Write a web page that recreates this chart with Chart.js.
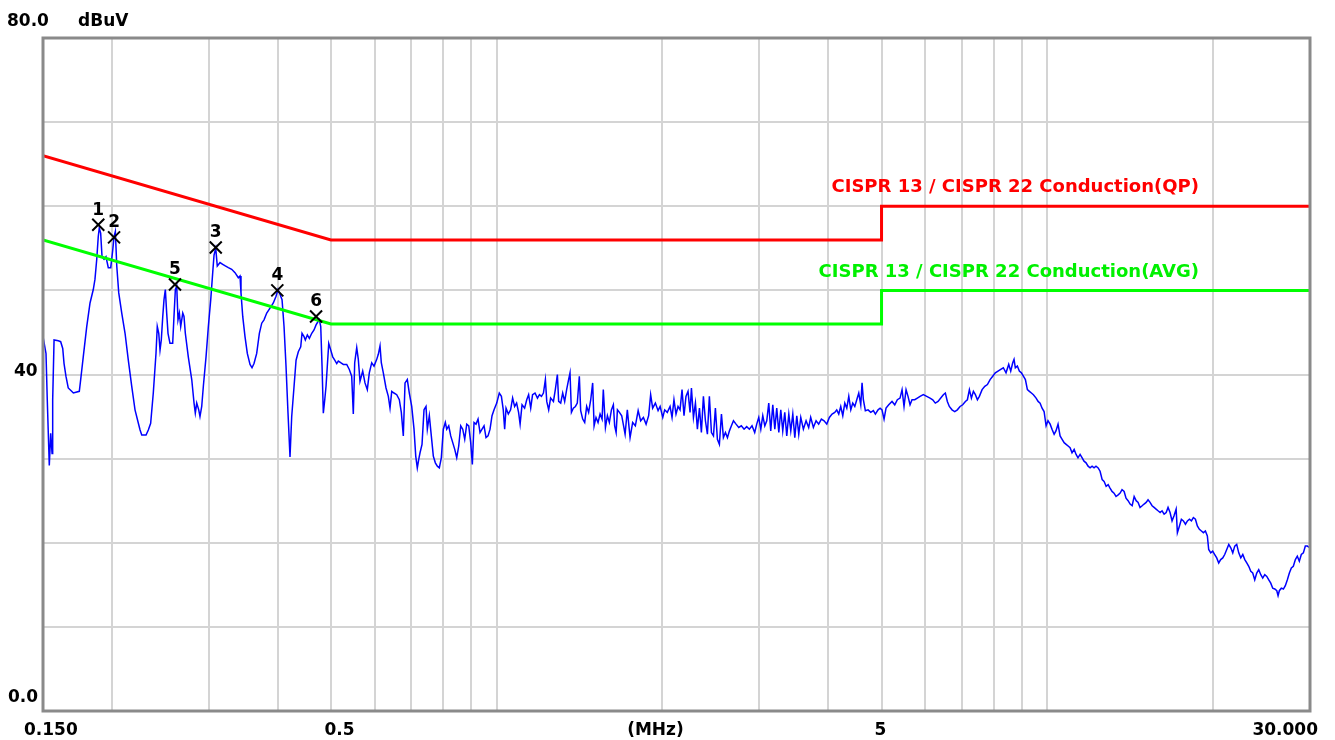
<!DOCTYPE html>
<html><head><meta charset="utf-8">
<script src="https://cdn.jsdelivr.net/npm/chart.js@4/dist/chart.umd.min.js"></script>
<style>html,body{margin:0;padding:0;background:#fff;overflow:hidden}#wrap{width:1335px;height:740px;position:relative}</style>
</head><body><div id="wrap"><canvas id="c" width="1335" height="740"></canvas></div>
<script>
// ---- DATA ----
const traceFreq = [
0.1500,0.1519,0.1527,0.1540,0.1549,0.1558,0.1562,0.1571,0.1599,0.1615,0.1629,0.1638,0.1651,0.1667,0.1691,0.1703,0.1746,0.1756,0.1775,0.1801,
0.1826,0.1851,0.1864,0.1878,0.1890,0.1898,0.1909,0.1920,0.1936,0.1952,0.1971,0.1991,0.2008,0.2019,0.2030,0.2042,0.2059,0.2085,0.2114,0.2143,
0.2174,0.2204,0.2235,0.2251,0.2267,0.2308,0.2330,0.2353,0.2379,0.2406,0.2419,0.2434,0.2447,0.2460,0.2475,0.2488,0.2502,0.2516,0.2530,0.2551,
0.2580,0.2594,0.2609,0.2624,0.2638,0.2653,0.2668,0.2691,0.2705,0.2720,0.2754,0.2794,0.2821,0.2836,0.2853,0.2877,0.2892,0.2913,0.2933,0.2966,
0.2995,0.3025,0.3050,0.3067,0.3089,0.3109,0.3145,0.3180,0.3215,0.3256,0.3302,0.3348,0.3395,0.3419,0.3433,0.3458,0.3491,0.3525,0.3565,0.3595,
0.3625,0.3666,0.3707,0.3744,0.3780,0.3823,0.3876,0.3930,0.3975,0.4008,0.4042,0.4076,0.4110,0.4144,0.4179,0.4214,0.4244,0.4286,0.4322,0.4363,
0.4407,0.4431,0.4469,0.4493,0.4531,0.4569,0.4615,0.4659,0.4699,0.4738,0.4764,0.4792,0.4818,0.4844,0.4873,0.4899,0.4955,0.4997,0.5038,0.5081,
0.5123,0.5157,0.5209,0.5266,0.5342,0.5400,0.5454,0.5491,0.5523,0.5570,0.5607,0.5647,0.5711,0.5766,0.5822,0.5871,0.5930,0.5988,0.6056,0.6096,
0.6140,0.6173,0.6225,0.6296,0.6357,0.6402,0.6448,0.6510,0.6584,0.6656,0.6712,0.6768,0.6817,0.6882,0.6940,0.7010,0.7078,0.7129,0.7176,0.7219,
0.7258,0.7319,0.7380,0.7442,0.7483,0.7546,0.7609,0.7673,0.7738,0.7803,0.7868,0.7934,0.8001,0.8068,0.8115,0.8184,0.8252,0.8322,0.8392,0.8462,
0.8533,0.8605,0.8677,0.8750,0.8824,0.8898,0.8972,0.9033,0.9097,0.9173,0.9251,0.9328,0.9407,0.9486,0.9565,0.9646,0.9727,0.9808,0.9891,1.0003,
1.011,1.020,1.028,1.034,1.040,1.050,1.060,1.069,1.078,1.087,1.096,1.103,1.112,1.124,1.134,1.143,1.153,1.162,1.174,1.186,
1.196,1.206,1.216,1.226,1.233,1.243,1.253,1.268,1.278,1.289,1.296,1.307,1.318,1.329,1.340,1.351,1.359,1.367,1.378,1.390,
1.401,1.413,1.421,1.433,1.445,1.457,1.469,1.482,1.494,1.503,1.515,1.528,1.541,1.554,1.562,1.576,1.589,1.602,1.616,1.629,
1.638,1.648,1.657,1.671,1.687,1.711,1.727,1.747,1.766,1.786,1.807,1.826,1.847,1.868,1.888,1.904,1.920,1.942,1.964,1.981,
2.003,2.019,2.041,2.065,2.082,2.099,2.117,2.135,2.153,2.171,2.189,2.207,2.226,2.245,2.258,2.277,2.296,2.315,2.335,2.354,
2.374,2.394,2.414,2.434,2.455,2.476,2.496,2.517,2.538,2.560,2.581,2.603,2.625,2.647,2.669,2.692,2.721,2.752,2.782,2.814,
2.845,2.877,2.909,2.942,2.967,2.992,3.018,3.043,3.069,3.094,3.120,3.146,3.173,3.200,3.226,3.254,3.281,3.308,3.336,3.364,
3.393,3.421,3.450,3.479,3.508,3.537,3.567,3.606,3.647,3.687,3.718,3.760,3.803,3.844,3.888,3.932,3.977,4.020,4.066,4.112,
4.146,4.181,4.216,4.252,4.288,4.324,4.360,4.397,4.433,4.471,4.508,4.546,4.584,4.609,4.634,4.673,4.726,4.780,4.832,4.873,
4.928,4.970,5.010,5.053,5.095,5.153,5.224,5.284,5.342,5.402,5.448,5.493,5.540,5.586,5.633,5.680,5.745,5.808,5.874,5.955,
6.040,6.124,6.194,6.261,6.333,6.405,6.475,6.529,6.584,6.639,6.714,6.791,6.865,6.943,7.021,7.100,7.160,7.220,7.281,7.342,
7.403,7.466,7.528,7.614,7.700,7.785,7.873,7.960,8.047,8.138,8.231,8.321,8.415,8.511,8.582,8.654,8.702,8.749,8.823,8.897,
8.974,9.049,9.125,9.202,9.279,9.357,9.436,9.543,9.623,9.704,9.785,9.867,9.950,10.03,10.12,10.20,10.29,10.37,10.46,10.55,
10.64,10.73,10.82,10.91,11.00,11.09,11.19,11.28,11.37,11.47,11.57,11.66,11.76,11.86,11.96,12.06,12.16,12.26,12.37,12.47,
12.58,12.68,12.79,12.90,13.00,13.11,13.22,13.33,13.45,13.56,13.67,13.79,13.90,14.02,14.14,14.26,14.38,14.50,14.62,14.74,
14.87,14.99,15.12,15.24,15.37,15.50,15.63,15.76,15.89,16.03,16.16,16.30,16.44,16.57,16.71,16.85,16.99,17.14,17.23,17.38,
17.52,17.67,17.82,17.97,18.12,18.27,18.42,18.58,18.73,18.89,19.05,19.21,19.37,19.53,19.64,19.81,19.97,20.14,20.31,20.48,
20.65,20.83,21.00,21.18,21.36,21.54,21.72,21.90,22.08,22.27,22.46,22.65,22.84,23.03,23.22,23.42,23.61,23.81,24.01,24.21,
24.42,24.62,24.83,25.04,25.25,25.46,25.67,25.89,26.11,26.25,26.39,26.61,26.84,27.06,27.29,27.52,27.75,27.98,28.22,28.45,
28.69,28.93,29.18,29.42,29.67,30.00];
const traceLevel = [
44.5,42.5,37.0,29.2,33.0,30.6,37.0,44.1,44.0,43.9,43.1,41.3,39.8,38.4,38.0,37.8,38.0,39.4,42.1,45.7,
48.5,50.1,51.3,53.7,56.4,57.4,56.8,54.0,53.7,54.0,52.7,52.7,54.8,56.4,57.0,52.9,49.7,47.3,44.9,41.7,
38.6,35.8,34.2,33.4,32.8,32.8,33.4,34.2,37.8,42.5,45.7,44.9,42.9,44.1,46.9,48.9,50.1,47.3,44.9,43.7,
43.7,46.9,50.1,50.5,46.5,47.3,45.7,47.3,46.9,44.9,42.1,39.4,36.6,35.4,36.6,35.8,35.0,36.2,38.6,42.1,
45.7,48.9,52.1,54.2,55.0,52.9,53.3,53.1,52.9,52.7,52.5,52.1,51.5,51.7,49.7,46.9,44.5,42.5,41.2,40.8,
41.3,42.5,44.9,46.1,46.5,47.3,47.9,48.5,49.3,50.1,49.5,48.9,45.7,41.0,35.4,30.2,35.0,38.6,41.7,42.7,
43.3,44.9,44.5,44.1,44.7,44.3,44.9,45.3,45.9,46.3,46.5,45.7,41.0,35.4,37.0,38.6,43.7,42.9,42.1,41.7,
41.3,41.6,41.4,41.2,41.2,40.6,39.8,35.3,41.4,43.2,41.8,39.2,40.4,39.0,38.2,40.2,41.4,41.0,41.8,42.4,
43.4,41.4,40.2,38.4,37.4,36.0,38.0,37.8,37.6,37.0,35.5,32.7,39.0,39.4,37.8,36.2,33.5,30.3,28.9,29.9,
30.7,31.7,35.8,36.2,33.5,35.1,32.7,30.3,29.5,29.1,28.9,30.1,33.5,34.3,33.5,33.9,32.7,31.9,31.1,30.1,
31.5,33.9,33.5,32.3,34.1,33.9,31.9,29.3,34.3,34.1,34.7,33.1,33.5,33.9,32.5,32.7,33.5,35.1,35.8,36.6,
37.8,37.4,35.8,33.5,36.0,35.3,35.8,37.2,36.2,36.6,35.5,34.1,36.4,36.0,37.0,37.6,36.0,37.6,37.8,37.2,
37.6,37.4,37.8,39.4,36.8,35.8,37.2,36.8,38.2,40.0,36.8,36.6,37.8,36.8,38.2,39.4,40.2,35.5,36.0,36.2,
36.6,39.8,35.7,34.7,34.3,36.2,35.5,37.0,39.0,33.9,34.9,34.3,35.3,34.7,38.2,33.7,35.1,34.3,35.8,36.4,
33.9,33.1,35.8,35.5,35.1,32.9,35.8,32.5,34.3,33.9,35.7,34.5,34.9,34.1,35.1,37.6,36.0,36.6,35.7,36.2,
34.9,35.8,35.5,36.2,34.9,37.0,35.3,36.2,35.8,38.2,35.1,37.4,38.0,35.5,38.4,34.9,36.6,33.5,36.0,33.1,
37.4,34.5,32.9,37.4,33.1,32.7,36.0,32.3,31.7,35.3,32.5,33.1,32.5,33.3,33.9,34.5,34.1,33.7,33.9,33.5,
33.8,33.5,33.9,33.1,34.1,34.9,33.5,35.1,33.9,34.5,36.6,33.3,36.4,33.5,36.0,33.1,35.8,33.3,35.5,32.7,
35.3,33.3,35.3,32.5,35.1,32.9,34.9,33.5,34.5,33.7,34.9,33.7,34.5,34.1,34.7,34.5,34.1,34.9,35.3,35.5,
35.8,35.3,36.2,35.1,36.6,36.0,37.4,35.8,36.6,36.2,37.0,37.8,36.4,39.0,37.0,35.7,35.8,35.5,35.7,35.3,
35.8,36.0,35.8,34.7,36.0,36.4,36.8,36.4,37.0,37.2,38.2,36.2,38.2,37.4,36.4,37.0,37.0,37.2,37.4,37.6,
37.4,37.2,37.0,36.6,36.8,37.2,37.6,37.8,36.8,36.2,35.8,35.6,35.8,36.2,36.4,36.8,37.0,38.2,37.2,38.0,
37.6,37.0,37.4,38.2,38.6,38.8,39.4,39.8,40.2,40.4,40.6,40.8,40.2,41.2,40.4,41.4,41.8,40.8,41.0,40.4,
40.2,39.8,39.4,38.2,38.0,37.8,37.6,37.2,36.8,36.6,36.0,35.6,33.9,34.5,34.1,33.5,32.9,33.3,34.1,32.7,
32.3,31.9,31.7,31.5,31.3,30.7,31.1,30.5,30.1,30.5,30.1,29.7,29.5,29.1,28.9,29.1,28.9,29.1,28.9,28.5,
27.5,27.3,26.7,26.9,26.5,26.1,25.9,25.5,25.7,25.9,26.3,26.1,25.3,25.0,24.6,24.4,25.5,25.0,24.8,24.2,
24.4,24.6,24.8,25.1,24.8,24.4,24.2,24.0,23.8,23.6,23.8,23.4,23.6,24.2,23.6,22.6,23.2,24.0,21.2,22.0,
22.8,22.6,22.2,22.6,22.8,22.6,23.0,22.8,22.0,21.6,21.4,21.2,21.4,20.8,19.2,18.8,19.0,18.6,18.2,17.6,
18.0,18.2,18.6,19.2,19.8,19.4,18.8,19.6,19.8,18.8,18.2,18.6,18.0,17.6,17.2,16.6,16.4,15.6,16.4,16.8,
16.2,15.8,16.2,16.0,15.6,15.2,14.6,14.5,14.3,13.7,14.3,14.6,14.5,14.9,15.6,16.4,17.0,17.2,18.0,18.4,
17.8,18.6,18.8,19.6,19.6,19.4];

const qpFreq  = [0.15, 0.5, 5, 5, 30];
const qpLevel = [66, 56, 56, 60, 60];
const avgFreq  = [0.15, 0.5, 5, 5, 30];
const avgLevel = [56, 46, 46, 50, 50];

const markerFreq   = [0.1890, 0.2019, 0.3089, 0.3996, 0.2605, 0.4699];
const markerLevel  = [57.8, 56.3, 55.1, 50.0, 50.7, 46.9];
const markerLabels = ['1', '2', '3', '4', '5', '6'];

const gridFreqs = [0.2,0.3,0.4,0.5,0.6,0.7,0.8,0.9,1,2,3,4,5,6,7,8,9,10,20];
const xLabelValues = [0.15, 0.5, 2, 5, 30];
const xLabelTexts  = ['0.150', '0.5', '(MHz)', '5', '30.000'];
const yLabelValues = [80, 40, 0];
const yLabelTexts  = ['80.0', '40', '0.0'];
const unitLabel = 'dBuV';
const limitNames = ['CISPR 13 / CISPR 22 Conduction(QP)', 'CISPR 13 / CISPR 22 Conduction(AVG)'];

// ---- CHART ----
const toXY = (xs, ys) => xs.map((x, i) => ({x: x, y: ys[i]}));

const textPlugin = {
  id: 'texts',
  afterDraw(chart) {
    const ctx = chart.ctx, a = chart.chartArea;
    const xs = chart.scales.x, ys = chart.scales.y;
    ctx.save();
    // frame
    ctx.strokeStyle = '#8a8a8a';
    ctx.lineWidth = 3;
    ctx.strokeRect(a.left, a.top, a.right - a.left, a.bottom - a.top);
    // axis labels
    ctx.fillStyle = '#000';
    ctx.font = 'bold 17px "DejaVu Sans"';
    ctx.textBaseline = 'alphabetic';
    const xOff = [['left', -19], ['center', 8.6], ['center', -7], ['center', -1], ['right', 8]];
    xLabelValues.forEach((v, i) => {
      ctx.textAlign = xOff[i][0];
      ctx.fillText(xLabelTexts[i], xs.getPixelForValue(v) + xOff[i][1], 735);
    });
    const yOff = [-12, 1, -9];
    const yLeft = [7, 14, 8];
    ctx.textAlign = 'left';
    yLabelValues.forEach((v, i) => {
      ctx.fillText(yLabelTexts[i], yLeft[i], ys.getPixelForValue(v) + yOff[i]);
    });
    ctx.fillText(unitLabel, 78, ys.getPixelForValue(80) - 12);
    // limit names
    ctx.font = 'bold 18px "DejaVu Sans"';
    ctx.textAlign = 'right';
    ctx.fillStyle = '#ff0000';
    ctx.fillText(limitNames[0], 1199, ys.getPixelForValue(qpLevel[4]) - 14);
    ctx.fillStyle = '#00f000';
    ctx.fillText(limitNames[1], 1199, ys.getPixelForValue(avgLevel[4]) - 13);
    // marker numbers
    ctx.fillStyle = '#000';
    ctx.font = 'bold 17px "DejaVu Sans"';
    ctx.textAlign = 'center';
    const meta = chart.getDatasetMeta(3);
    meta.data.forEach((pt, i) => {
      ctx.fillText(markerLabels[i], pt.x, pt.y - 10);
    });
    ctx.restore();
  }
};

new Chart(document.getElementById('c'), {
  type: 'line',
  data: {
    datasets: [
      { data: toXY(traceFreq, traceLevel), borderColor: '#0000ff', borderWidth: 1.5, pointRadius: 0, order: 3 },
      { data: toXY(qpFreq, qpLevel), borderColor: '#ff0000', borderWidth: 3, pointRadius: 0, order: 2 },
      { data: toXY(avgFreq, avgLevel), borderColor: '#00ff00', borderWidth: 3, pointRadius: 0, order: 1 },
      { type: 'scatter', data: toXY(markerFreq, markerLevel), showLine: false, pointStyle: 'crossRot',
        pointRadius: 8.5, pointBorderWidth: 2, borderColor: '#000', backgroundColor: '#000', order: 0 }
    ]
  },
  options: {
    responsive: false,
    devicePixelRatio: 1,
    animation: false,
    layout: { padding: { left: 43, top: 38, right: 25, bottom: 29 } },
    plugins: { legend: { display: false }, tooltip: { enabled: false } },
    elements: { line: { tension: 0 } },
    scales: {
      x: {
        type: 'logarithmic', min: 0.15, max: 30,
        afterBuildTicks: (s) => { s.ticks = gridFreqs.map(v => ({ value: v })); },
        ticks: { display: false },
        grid: { color: '#d4d4d4', lineWidth: 2, drawTicks: false },
        border: { display: false }
      },
      y: {
        min: 0, max: 80,
        ticks: { display: false, stepSize: 10 },
        grid: { color: '#d4d4d4', lineWidth: 2, drawTicks: false },
        border: { display: false }
      }
    }
  },
  plugins: [textPlugin]
});
</script>
</body></html>
